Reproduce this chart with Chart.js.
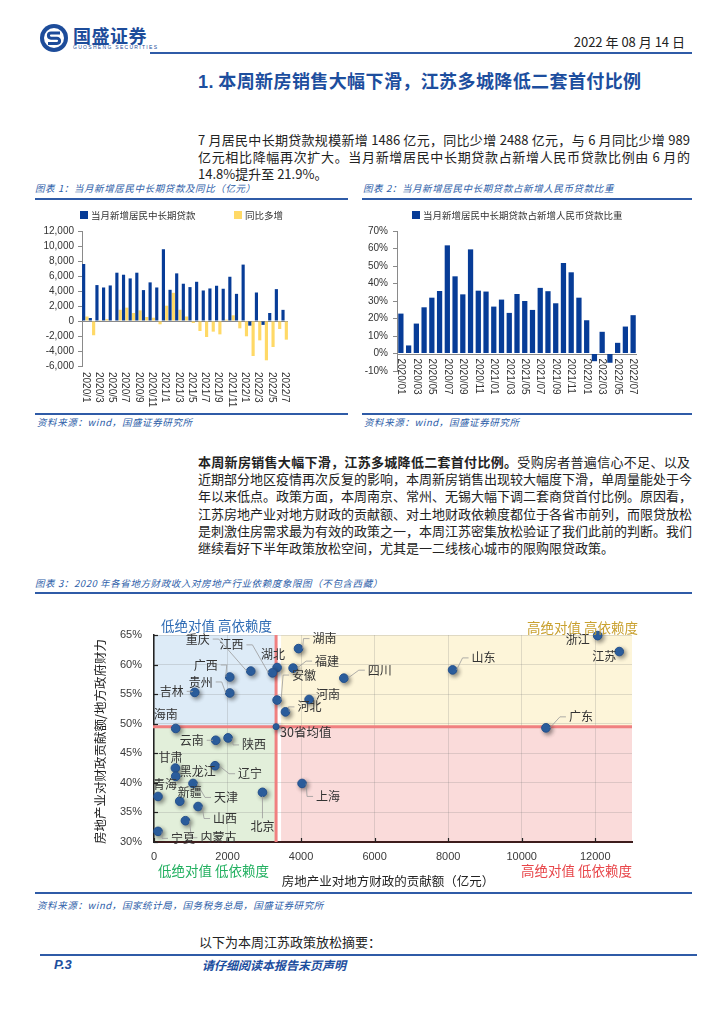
<!DOCTYPE html>
<html><head><meta charset="utf-8">
<script src="https://cdn.jsdelivr.net/npm/chart.js@4.4.0/dist/chart.umd.min.js"></script>
<style>
body{margin:0;background:#fff;}
#page{position:relative;width:724px;height:1024px;overflow:hidden;font-family:"Noto Sans CJK SC","Liberation Sans",sans-serif;color:#1f1f1f;background:#fff;}
.abs{position:absolute;white-space:nowrap;}
.cap{font-size:9.5px;font-style:italic;color:#2C5DA8;line-height:12px;letter-spacing:0.6px;}
.hl{position:absolute;height:2px;background:#2F5BA7;}
.para{position:absolute;left:198px;width:492px;font-size:13px;line-height:17.2px;color:#222;}
.para div{text-align:justify;text-align-last:justify;white-space:nowrap;}
.para div.last{text-align-last:left;}
</style></head><body>
<div id="page">
  <svg class="abs" style="left:39px;top:23px" width="30" height="30" viewBox="0 0 30 30">
    <circle cx="15" cy="15" r="14" fill="#1D4C9A"/>
    <circle cx="15" cy="15" r="10" fill="#fff"/>
    <path d="M21 10 H12 a2.6 2.6 0 0 0 0 5.2 H18 a2.6 2.6 0 0 1 0 5.2 H9" stroke="#1D4C9A" stroke-width="3" fill="none"/>
  </svg>
  <div class="abs" style="left:73px;top:24px;font-size:18px;font-weight:bold;color:#1D4C9A;line-height:22px;letter-spacing:0.5px;">国盛证券</div>
  <div class="abs" style="left:73px;top:44px;font-size:5px;color:#1D4C9A;letter-spacing:1.3px;line-height:6px;font-family:'Liberation Sans';">GUOSHENG SECURITIES</div>
  <div class="abs" style="right:39px;top:33px;font-size:13px;line-height:18px;color:#222;">2022 年 08 月 14 日</div>
  <div class="hl" style="left:150px;top:52px;width:542px;"></div>

  <div class="abs" style="left:198px;top:68px;font-size:18px;font-weight:bold;color:#1D4E9E;line-height:24px;letter-spacing:0.4px;"><span style="font-family:'Liberation Sans';">1.</span> 本周新房销售大幅下滑，江苏多城降低二套首付比例</div>

  <div class="para" style="top:131px;">
    <div>7 月居民中长期贷款规模新增 1486 亿元，同比少增 2488 亿元，与 6 月同比少增 989</div>
    <div>亿元相比降幅再次扩大。当月新增居民中长期贷款占新增人民币贷款比例由 6 月的</div>
    <div class="last">14.8%提升至 21.9%。</div>
  </div>

  <div class="abs cap" style="left:35px;top:182px;">图表 1：当月新增居民中长期贷款及同比（亿元）</div>
  <div class="abs cap" style="left:363px;top:182px;">图表 2：当月新增居民中长期贷款占新增人民币贷款比重</div>
  <div class="hl" style="left:35px;top:198px;width:313px;height:1.5px;"></div>
  <div class="hl" style="left:362px;top:198px;width:330px;height:1.5px;"></div>

  <canvas id="c1" class="abs" style="left:35px;top:200px;" width="313" height="210"></canvas>
  <canvas id="c2" class="abs" style="left:362px;top:200px;" width="330" height="210"></canvas>

  <div class="hl" style="left:35px;top:413px;width:313px;height:1.5px;"></div>
  <div class="hl" style="left:362px;top:413px;width:330px;height:1.5px;"></div>
  <div class="abs cap" style="left:37px;top:416px;">资料来源：wind，国盛证券研究所</div>
  <div class="abs cap" style="left:364px;top:416px;">资料来源：wind，国盛证券研究所</div>

  <div class="para" style="top:453px;">
    <div><b>本周新房销售大幅下滑，江苏多城降低二套首付比例。</b>受购房者普遍信心不足、以及</div>
    <div>近期部分地区疫情再次反复的影响，本周新房销售出现较大幅度下滑，单周量能处于今</div>
    <div>年以来低点。政策方面，本周南京、常州、无锡大幅下调二套商贷首付比例。原因看，</div>
    <div>江苏房地产业对地方财政的贡献额、对土地财政依赖度都位于各省市前列，而限贷放松</div>
    <div>是刺激住房需求最为有效的政策之一，本周江苏密集放松验证了我们此前的判断。我们</div>
    <div class="last">继续看好下半年政策放松空间，尤其是一二线核心城市的限购限贷政策。</div>
  </div>

  <div class="abs cap" style="left:35px;top:577px;">图表 3：2020 年各省地方财政收入对房地产行业依赖度象限图（不包含西藏）</div>
  <div class="hl" style="left:35px;top:592px;width:657px;height:1.5px;"></div>

  <canvas id="c3" class="abs" style="left:35px;top:598px;" width="657" height="292"></canvas>

  <div class="hl" style="left:35px;top:892px;width:657px;height:1.5px;"></div>
  <div class="abs cap" style="left:37px;top:899px;">资料来源：wind，国家统计局，国务税务总局，国盛证券研究所</div>

  <div class="abs" style="left:199px;top:933px;font-size:13px;line-height:18px;color:#222;">以下为本周江苏政策放松摘要：</div>
  <div class="hl" style="left:40px;top:954px;width:657px;"></div>
  <div class="abs" style="left:54px;top:957px;font-size:13px;font-weight:bold;font-style:italic;color:#1D4E9E;line-height:15px;font-family:'Liberation Sans';">P.3</div>
  <div class="abs" style="left:202px;top:957px;font-size:12px;font-weight:bold;font-style:italic;color:#1D4E9E;line-height:15px;">请仔细阅读本报告末页声明</div>
</div>

<script>
// ---------------- data ----------------
const months1 = ['2020/1','2020/2','2020/3','2020/4','2020/5','2020/6','2020/7','2020/8','2020/9','2020/10','2020/11','2020/12',
  '2021/1','2021/2','2021/3','2021/4','2021/5','2021/6','2021/7','2021/8','2021/9','2021/10','2021/11','2021/12',
  '2022/1','2022/2','2022/3','2022/4','2022/5','2022/6','2022/7'];
const newLoans = [7600,400,4790,4470,4740,6440,6170,5680,6440,4120,5150,4470,
  9570,4160,6350,4970,4520,5230,4070,4340,4700,4300,5900,3620,
  7520,-620,3800,-520,1070,4250,1486];
const yoyChange = [600,-1900,120,250,60,1500,1780,1070,1420,530,440,-440,
  2040,3760,1500,600,-270,-1330,-2130,-1420,-1780,180,760,-980,
  -2040,-4670,-2580,-5240,-3470,-1070,-2488];
const series1Names = ['当月新增居民中长期贷款','同比多增'];

const months2 = ['2020/01','2020/02','2020/03','2020/04','2020/05','2020/06','2020/07','2020/08','2020/09','2020/10','2020/11','2020/12',
  '2021/01','2021/02','2021/03','2021/04','2021/05','2021/06','2021/07','2021/08','2021/09','2021/10','2021/11','2021/12',
  '2022/01','2022/02','2022/03','2022/04','2022/05','2022/06','2022/07'];
const loanShare = [22.8,4.6,17.1,26.4,31.9,35.7,61.8,44.1,33.8,59.5,35.9,35.4,
  26.8,30.8,23.2,34.0,30.0,24.9,37.5,35.6,28.7,51.7,46.4,31.9,
  19.0,-4.4,12.4,-5.3,6.1,15.4,21.9];
const series2Name = '当月新增居民中长期贷款占新增人民币贷款比重';

const provinces = ['浙江','江苏','山东','广东','四川','湖南','福建','安徽','湖北','江西','重庆','广西','贵州','吉林','海南',
  '河南','河北','云南','陕西','甘肃','黑龙江','辽宁','青海','天津','新疆','山西','北京','上海','内蒙古','宁夏'];
const contribution = [12066,12653,8120,10659,5163,3930,3783,3348,3348,3221,2631,2060,2060,1108,591,
  4218,3575,1679,2014,582,591,1660,109,1061,700,1198,2950,4027,854,109];
const dependence = [64.9,62.2,59.1,49.3,57.7,62.7,59.4,54.0,59.5,58.6,58.9,57.9,55.2,55.3,49.2,
  54.1,52.0,47.2,47.6,42.5,41.1,42.9,37.7,39.9,36.9,36.0,38.4,39.9,33.6,31.8];
const avgName = '30省均值';
const avgContribution = [3320];
const avgDependence = [49.5];
const xTicks3 = [0,2000,4000,6000,8000,10000,12000];
const yTicks3 = [30,35,40,45,50,55,60,65];
const quadrantNames = ['低绝对值 高依赖度','高绝对值 高依赖度','低绝对值 低依赖度','高绝对值 低依赖度'];
const xTitle3 = '房地产业对地方财政的贡献额（亿元）';
const yTitle3 = '房地产业对财政贡献额/地方政府财力';

// label placement (pixel offsets from point: dx, dy, leader line)
const labelPlacement = {
  '浙江':[-20,4,0],'江苏':[-15,5,0],'山东':[31,-12,1],'广东':[35,-11,1],'四川':[36,-8,1],'湖南':[26,-10,1],
  '福建':[34,-7,1],'安徽':[27,-25,1],'湖北':[-4,-13,0],'江西':[-41,-28,1],'重庆':[-53,-32,1],'广西':[-24,-12,1],
  '贵州':[-29,-11,1],'吉林':[-23,-1,1],'海南':[-10,-14,0],'河南':[19,-5,0],'河北':[24,-5,1],'云南':[-24,0,1],
  '陕西':[26,7,1],'甘肃':[-5,-11,0],'黑龙江':[22,-5,0],'辽宁':[35,8,1],'青海':[7,-12,0],'天津':[33,14,1],
  '新疆':[10,-9,0],'山西':[27,12,1],'北京':[0,34,1],'上海':[26,13,1],'内蒙古':[33,17,1],'宁夏':[25,7,1]
};

// ---------------- common ----------------
Chart.defaults.font.family = '"Liberation Sans", Arial, sans-serif';
Chart.defaults.color = '#333';
const BLUE = '#073C97', YELLOW = '#FFD966';
const CJK = '"Noto Sans CJK SC", sans-serif';

function barDecor(opt){
  return {
    id:'barDecor',
    beforeDatasetsDraw(chart){
      const {ctx, chartArea:a, scales:{y}} = chart;
      const y0 = Math.round(y.getPixelForValue(0)) + 0.5;
      ctx.save(); ctx.strokeStyle = '#8a8a8a'; ctx.lineWidth = 1;
      ctx.beginPath(); ctx.moveTo(a.left, y0); ctx.lineTo(a.right, y0); ctx.stroke(); ctx.restore();
    },
    afterDraw(chart){
      const {ctx, chartArea:a, scales:{x,y}} = chart;
      ctx.save();
      ctx.font = '10px "Liberation Sans", Arial'; ctx.fillStyle = '#333';
      ctx.textAlign = 'left'; ctx.textBaseline = 'middle';
      const top = opt.atZero ? y.getPixelForValue(0) + 5 : a.bottom + 6;
      chart.data.labels.forEach((lab, i) => {
        if (i % 2) return;
        const px = x.getPixelForValue(i);
        ctx.save(); ctx.translate(px, top); ctx.rotate(Math.PI/2); ctx.fillText(lab, 0, 0); ctx.restore();
      });
      // legend
      ctx.font = '9.5px ' + CJK; ctx.textBaseline = 'middle';
      chart.data.datasets.forEach((ds, i) => {
        const lx = a.left + opt.legendX[i];
        ctx.fillStyle = ds.backgroundColor; ctx.fillRect(lx, 11, 8, 8);
        ctx.fillStyle = '#333'; ctx.fillText(ds.label, lx + 11, 15.5);
      });
      ctx.restore();
    }
  };
}

// ---------------- chart 1 ----------------
new Chart(document.getElementById('c1'), {
  type:'bar',
  data:{ labels: months1, datasets:[
    {label: series1Names[0], data: newLoans, backgroundColor: BLUE, categoryPercentage: 1, barPercentage: 0.95},
    {label: series1Names[1], data: yoyChange, backgroundColor: YELLOW, categoryPercentage: 1, barPercentage: 0.95}
  ]},
  options:{
    responsive:false, animation:false,
    layout:{padding:{top:31, right:60, left:0, bottom:44}},
    plugins:{legend:{display:false}, tooltip:{enabled:false}},
    scales:{
      x:{display:false},
      y:{min:-6000, max:12000, ticks:{stepSize:2000, padding:4, font:{size:10}, color:'#333',
          callback:v => v.toLocaleString('en-US')},
         grid:{drawOnChartArea:false, tickLength:4, color:'#8a8a8a'},
         border:{display:true, color:'#8a8a8a'},
         afterFit: s => { s.width = 47; }}
    }
  },
  plugins:[barDecor({atZero:false, legendX:[-2,152]})]
});

// ---------------- chart 2 ----------------
new Chart(document.getElementById('c2'), {
  type:'bar',
  data:{ labels: months2, datasets:[
    {label: series2Name, data: loanShare, backgroundColor: BLUE, categoryPercentage: 1, barPercentage: 0.68}
  ]},
  options:{
    responsive:false, animation:false,
    layout:{padding:{top:31, right:55, left:0, bottom:39}},
    plugins:{legend:{display:false}, tooltip:{enabled:false}},
    scales:{
      x:{display:false},
      y:{min:-10, max:70, ticks:{stepSize:10, padding:5, font:{size:10}, color:'#333', callback:v => v + '%'},
         grid:{drawOnChartArea:false, tickLength:4, color:'#8a8a8a'},
         border:{display:true, color:'#8a8a8a'},
         afterFit: s => { s.width = 35; }}
    }
  },
  plugins:[barDecor({atZero:true, legendX:[15]})]
});

// ---------------- chart 3 ----------------
const quadPlugin = {
  id:'quad',
  beforeDraw(chart){
    const {ctx, chartArea:a, scales:{x,y}} = chart;
    const mx = x.getPixelForValue(avgContribution[0]);
    const my = y.getPixelForValue(avgDependence[0]);
    ctx.save();
    ctx.fillStyle = '#DDEBF7'; ctx.fillRect(a.left, a.top, mx - a.left, my - a.top);
    ctx.fillStyle = '#E2EFDA'; ctx.fillRect(a.left, my, mx - a.left, a.bottom - my);
    ctx.fillStyle = '#FDF5D9'; ctx.fillRect(mx + 5, a.top, a.right - mx - 5, my - a.top);
    ctx.fillStyle = '#FADBDA'; ctx.fillRect(mx + 5, my, a.right - mx - 5, a.bottom - my);
    ctx.restore();
  },
  beforeDatasetsDraw(chart){
    const {ctx, chartArea:a, scales:{x,y}} = chart;
    const mx = x.getPixelForValue(avgContribution[0]);
    const my = y.getPixelForValue(avgDependence[0]);
    ctx.save();
    ctx.strokeStyle = '#F08080'; ctx.lineWidth = 3;
    ctx.beginPath(); ctx.moveTo(a.left - 1, my); ctx.lineTo(a.right, my); ctx.stroke();
    ctx.beginPath(); ctx.moveTo(mx, a.top); ctx.lineTo(mx, a.bottom); ctx.stroke();
    // inward ticks
    ctx.strokeStyle = '#222'; ctx.lineWidth = 1.2;
    y.ticks.forEach(t => { const py = Math.round(y.getPixelForValue(t.value)) + 0.5;
      ctx.beginPath(); ctx.moveTo(a.left, py); ctx.lineTo(a.left + 4, py); ctx.stroke(); });
    x.ticks.forEach(t => { const px = Math.round(x.getPixelForValue(t.value)) + 0.5;
      ctx.beginPath(); ctx.moveTo(px, a.bottom); ctx.lineTo(px, a.bottom - 4); ctx.stroke(); });
    ctx.restore();
  },
  beforeDatasetDraw(chart){
    const c = chart.ctx; c.save();
    c.shadowColor = 'rgba(0,0,0,0.45)'; c.shadowBlur = 4; c.shadowOffsetX = 2; c.shadowOffsetY = 2;
  },
  afterDatasetDraw(chart){ chart.ctx.restore(); },
  afterDatasetsDraw(chart){
    const {ctx, scales:{x,y}} = chart;
    ctx.save();
    ctx.font = '12px ' + CJK; ctx.textAlign = 'center'; ctx.textBaseline = 'middle';
    provinces.forEach((name, i) => {
      const px = x.getPixelForValue(contribution[i]);
      const py = y.getPixelForValue(dependence[i]);
      const [dx, dy, lead] = labelPlacement[name];
      const cx = px + dx, cy = py + dy;
      const w = ctx.measureText(name).width, h = 12;
      if (lead) {
        ctx.strokeStyle = '#9a9a9a'; ctx.lineWidth = 0.8;
        ctx.beginPath();
        if (Math.abs(dx) >= Math.abs(dy) * 0.6) {
          const s = Math.sign(dx) || 1;
          const ex = cx - s * (w/2 + 3);
          ctx.moveTo(px + s*4, py); ctx.lineTo(ex - s*6, cy); ctx.lineTo(ex, cy);
        } else {
          const s = Math.sign(dy) || 1;
          ctx.moveTo(px, py + s*4); ctx.lineTo(cx, cy - s*(h/2 + 2));
        }
        ctx.stroke();
      }
      ctx.fillStyle = '#333'; ctx.fillText(name, cx, cy);
    });
    // average label
    const ax = x.getPixelForValue(avgContribution[0]), ay = y.getPixelForValue(avgDependence[0]);
    ctx.textAlign = 'left'; ctx.fillStyle = '#333'; ctx.font = '12.5px ' + CJK;
    ctx.fillText(avgName, ax + 4, ay + 6);
    ctx.restore();
  },
  afterDraw(chart){
    const {ctx, chartArea:a} = chart;
    ctx.save();
    ctx.font = '13.5px ' + CJK; ctx.textBaseline = 'middle';
    ctx.textAlign = 'left'; ctx.fillStyle = '#2F6CB5'; ctx.fillText(quadrantNames[0], a.left + 7, a.top - 9);
    ctx.textAlign = 'right'; ctx.fillStyle = '#C9A130'; ctx.fillText(quadrantNames[1], a.right + 6, a.top - 7);
    ctx.textAlign = 'left'; ctx.fillStyle = '#22B060'; ctx.fillText(quadrantNames[2], a.left + 4, a.bottom + 29);
    ctx.textAlign = 'right'; ctx.fillStyle = '#E8464A'; ctx.fillText(quadrantNames[3], a.right, a.bottom + 29);
    ctx.fillStyle = '#222'; ctx.font = '12.5px ' + CJK; ctx.textAlign = 'center';
    ctx.fillText(xTitle3, a.left + 234, a.bottom + 39);
    ctx.save(); ctx.translate(a.left - 54, (a.top + a.bottom)/2 + 3); ctx.rotate(-Math.PI/2);
    ctx.fillText(yTitle3, 0, 0); ctx.restore();
    ctx.restore();
  }
};

new Chart(document.getElementById('c3'), {
  type:'scatter',
  data:{ datasets:[
    {label:'省份', data: provinces.map((p, i) => ({x: contribution[i], y: dependence[i]})),
     backgroundColor:'#2E63A6', borderColor:'#23508C', borderWidth:1, pointRadius:4.3, clip:false},
    {label: avgName, data: avgContribution.map((v, i) => ({x: v, y: avgDependence[i]})),
     backgroundColor:'#2E63A6', borderColor:'#23508C', borderWidth:1, pointRadius:3, clip:false}
  ]},
  options:{
    responsive:false, animation:false,
    layout:{padding:{top:37, right:60, left:0, bottom:0}},
    plugins:{legend:{display:false}, tooltip:{enabled:false}},
    scales:{
      x:{type:'linear', min:0, max:13000,
         afterBuildTicks: s => { s.ticks = xTicks3.map(v => ({value: v})); },
         ticks:{autoSkip:false, maxRotation:0, padding:8, font:{size:11}, color:'#3a3a3a', callback:v => String(v)},
         grid:{drawTicks:false, color:'rgba(120,120,120,0.22)'},
         border:{display:true, color:'#3d1c1c', width:2},
         afterFit: s => { s.height = 48; }},
      y:{min:30, max:65,
         afterBuildTicks: s => { s.ticks = yTicks3.map(v => ({value: v})); },
         ticks:{autoSkip:false, padding:12, font:{size:11}, color:'#3a3a3a', callback:v => v + '%'},
         grid:{drawTicks:false, color:'rgba(120,120,120,0.22)'},
         border:{display:true, color:'#222', width:1.5},
         afterFit: s => { s.width = 119; }}
    }
  },
  plugins:[quadPlugin]
});
</script>
</body></html>
